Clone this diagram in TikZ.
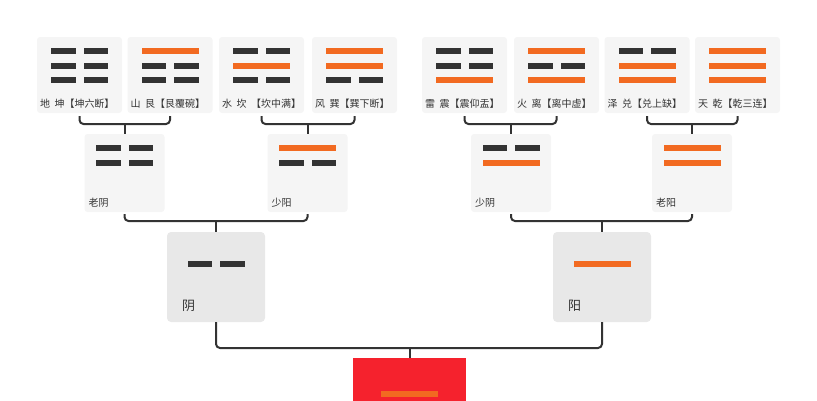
\documentclass[tikz,border=0pt]{standalone}
\usepackage{fontspec}
\setmainfont{Noto Sans CJK SC}
\definecolor{dk}{HTML}{333333}
\definecolor{og}{HTML}{F26A21}
\definecolor{lbox}{HTML}{F5F5F5}
\definecolor{mbox}{HTML}{E8E8E8}
\definecolor{rbox}{HTML}{F5222D}
\newcommand\yinbar[2]{\fill[dk] (#1-28.5,#2-3) rectangle (#1-4,#2+3);\fill[dk] (#1+4,#2-3) rectangle (#1+28.5,#2+3);}
\newcommand\yangbar[2]{\fill[og] (#1-28.5,#2-3) rectangle (#1+28.5,#2+3);}
\newcommand\gapsp{\hspace{4.5pt}}
\tikzset{
  tbox/.style={fill=lbox,rounded corners=3pt,minimum width=85pt,minimum height=76pt,inner sep=0pt},
  sbox/.style={fill=lbox,rounded corners=3pt,minimum width=80pt,minimum height=78pt,inner sep=0pt},
  bbox/.style={fill=mbox,rounded corners=4pt,minimum width=98pt,minimum height=90pt,inner sep=0pt},
  lab/.style={anchor=west,inner sep=0pt,text=dk,font=\fontsize{10pt}{12pt}\selectfont},
  blab/.style={anchor=west,inner sep=0pt,text=dk,font=\fontsize{13pt}{15pt}\selectfont},
  link/.style={draw=dk,line width=2pt,rounded corners=4pt},
  stem/.style={draw=dk,line width=2pt}
}
\begin{document}
\begin{tikzpicture}[x=1pt,y=-1pt]
\useasboundingbox (0,0) rectangle (817,400);
\clip (0,0) rectangle (817,400);
% top level boxes
\foreach \n/\cx/\t/\a/\b/\c in {
  t1/79.5/{地\gapsp 坤【坤六断】}/0/0/0,
  t2/170/{山\gapsp 艮【艮覆碗】}/1/0/0,
  t3/261.5/{水\gapsp 坎\gapsp 【坎中满】}/0/1/0,
  t4/354.5/{风\gapsp 巽【巽下断】}/1/1/0,
  t5/464.5/{雷\gapsp 震【震仰盂】}/0/0/1,
  t6/556.5/{火\gapsp 离【离中虚】}/1/0/1,
  t7/647/{泽\gapsp 兑【兑上缺】}/0/1/1,
  t8/737.5/{天\gapsp 乾【乾三连】}/1/1/1}{
  \node[tbox] (\n) at (\cx,75) {};
  \ifnum\a=1 \yangbar{\cx}{51}\else\yinbar{\cx}{51}\fi
  \ifnum\b=1 \yangbar{\cx}{65.5}\else\yinbar{\cx}{65.5}\fi
  \ifnum\c=1 \yangbar{\cx}{80}\else\yinbar{\cx}{80}\fi
  \node[lab] (\n l) at ([xshift=3pt,yshift=-29pt]\n.west) {\t};
}
% second level
\foreach \n/\cx/\t/\a/\b in {
  m1/124.5/老阴/0/0,
  m2/307.5/少阳/1/0,
  m3/511/少阴/0/1,
  m4/692/老阳/1/1}{
  \node[sbox] (\n) at (\cx,173) {};
  \ifnum\a=1 \yangbar{\cx}{148}\else\yinbar{\cx}{148}\fi
  \ifnum\b=1 \yangbar{\cx}{163}\else\yinbar{\cx}{163}\fi
  \node[lab] (\n l) at ([xshift=4pt,yshift=-30pt]\n.west) {\t};
}
% third level
\node[bbox] (b1) at (216,277) {};
\yinbar{216}{264}
\node[blab] (b1l) at ([xshift=15pt,yshift=-29pt]b1.west) {阴};
\node[bbox] (b2) at (602,277) {};
\yangbar{602}{264}
\node[blab] (b2l) at ([xshift=15pt,yshift=-29pt]b2.west) {阳};
% root
\node[fill=rbox,minimum width=113pt,minimum height=60pt,inner sep=0pt,anchor=north] (r) at (409.5,358) {};
\fill[og] (381,391) rectangle (438,397);
% brackets level 1
\foreach \a/\b/\m in {t1/t2/m1,t3/t4/m2,t5/t6/m3,t7/t8/m4}{
  \coordinate (j) at (\m.north |- 0,124);
  \draw[link] ([yshift=-3pt]\a.south) |- (j) -| ([yshift=-3pt]\b.south);
  \draw[stem] (j) -- (\m.north);
}
% brackets level 2
\foreach \a/\b/\m in {m1/m2/b1,m3/m4/b2}{
  \coordinate (j) at (\m.north |- 0,221);
  \draw[link] ([yshift=-2pt]\a.south) |- (j) -| ([yshift=-2pt]\b.south);
  \draw[stem] (j) -- (\m.north);
}
% bracket level 3
\coordinate (j3) at (r.north |- 0,348);
\draw[link] (b1.south) |- (j3) -| (b2.south);
\draw[stem] (j3) -- (r.north);
\end{tikzpicture}
\end{document}
